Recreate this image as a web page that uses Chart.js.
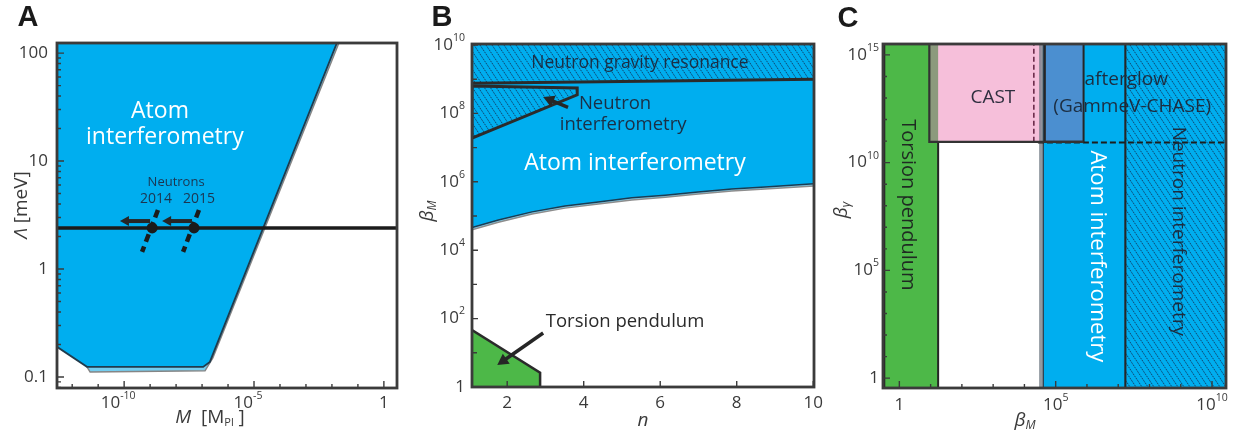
<!DOCTYPE html>
<html>
<head>
<meta charset="utf-8">
<script src="https://cdn.jsdelivr.net/npm/chart.js@4.4.1/dist/chart.umd.min.js"></script>
<style>
  body { margin: 0; background: #fff; width: 1241px; height: 440px; overflow: hidden; position: relative; }
  canvas { position: absolute; top: 0; }
</style>
</head>
<body>
<canvas id="a" width="414" height="440" style="left:0"></canvas>
<canvas id="b" width="416" height="440" style="left:414px"></canvas>
<canvas id="c" width="411" height="440" style="left:830px"></canvas>
<script>
// ---- panel A: Lambda [meV] vs M [M_Pl] ----
const aRangeM = [2.6e-13, 3.2];
const aRangeLam = [0.079, 124];
const atomM = [2.6e-13, 3.7e-12, 1.1e-7, 2.0e-7, 1.55e-2];
const atomLam = [0.19, 0.124, 0.124, 0.138, 124];
const atomEdgeM = [3.7e-12, 4.9e-12, 1.3e-7, 2.6e-7, 1.85e-2];
const atomEdgeLam = [0.124, 0.111, 0.114, 0.15, 124];
const neutronLam = 2.4;
const neutronYears = ['2014', '2015'];
const neutronM = [1.2e-9, 4.9e-8];
const boundTopM = [2.0e-9, 7.6e-8];
const boundBotM = [4.9e-10, 1.86e-8];
const boundLam = [3.52, 1.44];
const arrowTailM = [1.0e-9, 4.1e-8];
const arrowHeadM = [6.9e-11, 2.9e-9];
const arrowLam = 2.78;
const aTickM = [1e-10, 1e-5, 1];
const aTickLam = [0.1, 1, 10, 100];

// ---- panel B: beta_M vs n ----
const bRangeN = [1.08, 10.02];
const bRangeBeta = [1, 1.07e10];
const ngrN = [1.08, 10.02];
const ngrBeta = [7.6e8, 1.0e9];
const niN = [1.08, 3.83, 3.83, 1.08, 1.08];
const niBeta = [6.3e8, 5.5e8, 3.5e8, 1.9e7, 6.3e8];
const aiN = [1.08, 1.77, 2.65, 3.51, 4.38, 5.26, 6.13, 6.99, 7.87, 8.74, 10.02];
const aiBeta = [4.57e4, 7.6e4, 1.32e5, 1.95e5, 2.57e5, 3.39e5, 4.07e5, 5.0e5, 6.17e5, 7.08e5, 8.7e5];
const aiEdgeBeta = [3.98e4, 6.6e4, 1.15e5, 1.70e5, 2.24e5, 2.95e5, 3.55e5, 4.37e5, 5.37e5, 6.17e5, 7.6e5];
const tpN = [1.08, 2.86, 2.86];
const tpBeta = [46, 2.6, 1];
const bArrowFromN = [3.59, 2.94];
const bArrowFromBeta = [1.5e8, 38];
const bArrowToN = [2.94, 1.74];
const bArrowToBeta = [3.0e8, 4.4];
const bTickN = [2, 4, 6, 8, 10];
const bTickExp = [0, 2, 4, 6, 8, 10];

// ---- panel C: beta_gamma vs beta_M ----
const cRangeBM = [0.33, 2.8e10];
const cRangeBG = [0.35, 3.2e15];
const torsionEdge = 17.4;
const castBM = [9.1, 3.5e4];
const castFloor = 9.3e10;
const castDashBM = 2.0e4;
const atomEdgeBM = [2.95e4, 4.0e4];
const atomBM = [4.0e4, 1.7e7];
const glowBM = [4.5e4, 7.8e5];
const glowDashBM = 2.7e4;
const glowDashBG = 8.5e10;
const cTickExpX = [0, 5, 10];
const cTickExpY = [0, 5, 10, 15];

const BLUE = '#00aeef', GREEN = '#4db848', PINK = '#f6bfda', GLOW = '#4b8fd0', INK = '#262626';
const FONT = '"Open Sans", "Noto Sans", sans-serif';

function pts(xs, ys) {
  return xs.map((x, i) => ({ x, y: Array.isArray(ys) ? ys[i] : ys }));
}
function rect(x1, x2, y1, y2) {
  return [{ x: x1, y: y1 }, { x: x1, y: y2 }, { x: x2, y: y2 }, { x: x2, y: y1 }, { x: x1, y: y1 }];
}
function ds(data, o) {
  return Object.assign({ data, borderColor: INK, borderWidth: 2, pointRadius: 0, fill: false, tension: 0, clip: 0 }, o);
}

function hatch(id) {
  const t = document.createElement('canvas');
  t.width = 6; t.height = 9;
  const g = t.getContext('2d');
  g.fillStyle = BLUE;
  g.fillRect(0, 0, 6, 9);
  g.strokeStyle = 'rgba(20,40,75,0.85)';
  g.lineWidth = 0.9;
  g.setLineDash([1.8, 0.9]);
  g.beginPath();
  for (const k of [-6, 0, 6]) { g.moveTo(k, 0); g.lineTo(k + 6, 9); }
  g.stroke();
  return document.getElementById(id).getContext('2d').createPattern(t, 'repeat');
}

function txt(ctx, parts, x, y, align, rot) {
  // parts: [text, size, italic, dy]
  const f = p => (p[2] ? 'italic ' : '') + p[1] + 'px ' + FONT;
  ctx.save();
  ctx.translate(x, y);
  if (rot) ctx.rotate(rot);
  ctx.textBaseline = 'middle';
  ctx.textAlign = 'left';
  let w = 0;
  parts.forEach(p => { ctx.font = f(p); w += ctx.measureText(p[0]).width; });
  let cx = align === 'center' ? -w / 2 : align === 'right' ? -w : 0;
  parts.forEach(p => { ctx.font = f(p); ctx.fillText(p[0], cx, p[3] || 0); cx += ctx.measureText(p[0]).width; });
  ctx.restore();
}
function pow(exp, size) {
  if (exp === 0 || exp === '') return [['1', size]];
  return [['10', size], [String(exp), size * 0.62, false, -size * 0.42]];
}
function letter(ctx, s, x, y) {
  ctx.save();
  ctx.fillStyle = '#1a1a1a';
  ctx.font = 'bold 29px "Liberation Sans", Arial, sans-serif';
  ctx.textAlign = 'center';
  ctx.textBaseline = 'middle';
  ctx.fillText(s, x, y);
  ctx.restore();
}

function axes(chart, xt, yt) {
  const { ctx, chartArea: a, scales: { x, y } } = chart;
  ctx.save();
  ctx.strokeStyle = '#3b3b3b';
  ctx.lineWidth = 1.4;
  ctx.beginPath();
  xt.forEach(([v, l]) => { const p = x.getPixelForValue(v); ctx.moveTo(p, a.bottom); ctx.lineTo(p, a.bottom - l); });
  yt.forEach(([v, l]) => { const p = y.getPixelForValue(v); ctx.moveTo(a.left, p); ctx.lineTo(a.left + l, p); });
  ctx.stroke();
  ctx.lineWidth = 2.8;
  ctx.strokeRect(a.left, a.top, a.right - a.left, a.bottom - a.top);
  ctx.restore();
}

function arrow(chart, x0, y0, x1, y1, w, head) {
  const { ctx, scales: { x, y } } = chart;
  const ax = x.getPixelForValue(x0), ay = y.getPixelForValue(y0);
  const bx = x.getPixelForValue(x1), by = y.getPixelForValue(y1);
  const ang = Math.atan2(by - ay, bx - ax);
  ctx.save();
  ctx.strokeStyle = INK;
  ctx.fillStyle = INK;
  ctx.lineWidth = w;
  ctx.beginPath();
  ctx.moveTo(ax, ay);
  ctx.lineTo(bx - Math.cos(ang) * head * 0.8, by - Math.sin(ang) * head * 0.8);
  ctx.stroke();
  ctx.translate(bx, by);
  ctx.rotate(ang);
  ctx.beginPath();
  ctx.moveTo(0, 0);
  ctx.lineTo(-head, -head * 0.55);
  ctx.lineTo(-head, head * 0.55);
  ctx.closePath();
  ctx.fill();
  ctx.restore();
}

function makeChart(id, pad, xScale, yScale, datasets, draw) {
  // first listed dataset is drawn at the bottom
  datasets.forEach((d, i) => { d.order = datasets.length - i; });
  return new Chart(document.getElementById(id), {
    type: 'line',
    data: { datasets },
    options: {
      responsive: false,
      animation: false,
      events: [],
      layout: { padding: pad },
      scales: {
        x: Object.assign({ display: false }, xScale),
        y: Object.assign({ display: false }, yScale)
      },
      plugins: { legend: { display: false }, tooltip: { enabled: false } }
    },
    plugins: [{ id: 'decor' + id, afterDatasetsDraw: draw }]
  });
}

// ---------- A ----------
const aXTicks = [], aYTicks = [];
for (let e = -12; e <= 0; e++) aXTicks.push([Math.pow(10, e), e % 5 === 0 ? 7 : 4]);
for (let e = -2; e <= 2; e++) for (let m = 1; m <= 9; m++) {
  const v = m * Math.pow(10, e);
  if (v > aRangeLam[0] && v < aRangeLam[1]) aYTicks.push([v, m === 1 ? 7 : 4]);
}

makeChart('a', { left: 57, top: 43, right: 17, bottom: 52 },
  { type: 'logarithmic', min: aRangeM[0], max: aRangeM[1] },
  { type: 'logarithmic', min: aRangeLam[0], max: aRangeLam[1] },
  [
    ds(pts(atomEdgeM, atomEdgeLam), { fill: 'end', backgroundColor: '#74cdef', borderColor: '#858585', borderWidth: 1.5 }),
    ds(pts(atomM, atomLam), { fill: 'end', backgroundColor: BLUE, borderColor: '#1f3b4d', borderWidth: 1.8 }),
    ds(pts(aRangeM, neutronLam), { borderColor: '#1b1b1b', borderWidth: 3.4 }),
    ds(pts([boundTopM[0], boundBotM[0]], boundLam), { borderColor: '#1b1b1b', borderWidth: 4.5, borderDash: [8, 5] }),
    ds(pts([boundTopM[1], boundBotM[1]], boundLam), { borderColor: '#1b1b1b', borderWidth: 4.5, borderDash: [8, 5] }),
    ds(pts(neutronM, neutronLam), { showLine: false, pointRadius: 5.5, pointBackgroundColor: '#1b1b1b', pointBorderWidth: 0 })
  ],
  function (chart) {
    const { ctx, chartArea: a, scales: { x, y } } = chart;
    for (let i = 0; i < arrowTailM.length; i++) arrow(chart, arrowTailM[i], arrowLam, arrowHeadM[i], arrowLam, 4, 9);
    axes(chart, aXTicks, aYTicks);
    ctx.fillStyle = '#3a3a3a';
    aTickLam.forEach(v => txt(ctx, [[String(v), 17]], a.left - 9, y.getPixelForValue(v), 'right'));
    [['10', '-10'], ['10', '-5'], ['1', '']].forEach((l, i) => {
      const parts = l[1] ? [[l[0], 17], [l[1], 10.5, false, -7]] : [[l[0], 17]];
      txt(ctx, parts, x.getPixelForValue(aTickM[i]) - (l[1] ? 6 : 0), a.bottom + 15, 'center');
    });
    txt(ctx, [['Λ', 19, true], [' [meV]', 19]], 22, 205, 'center', -Math.PI / 2);
    txt(ctx, [['M', 19, true], ['  [M', 19], ['Pl', 11, false, 5], [' ]', 19]], 210, 418, 'center');
    ctx.fillStyle = '#fff';
    txt(ctx, [['Atom', 23]], x.getPixelForValue(2.4e-9), y.getPixelForValue(28.5), 'center');
    txt(ctx, [['interferometry', 23]], x.getPixelForValue(3.7e-9), y.getPixelForValue(16.7), 'center');
    ctx.fillStyle = '#1c3550';
    txt(ctx, [['Neutrons', 13]], x.getPixelForValue(1e-8), y.getPixelForValue(6.4), 'center');
    neutronYears.forEach((s, i) => txt(ctx, [[s, 14]], x.getPixelForValue([1.7e-9, 7.6e-8][i]), y.getPixelForValue(4.45), 'center'));
    letter(ctx, 'A', 28, 18);
  });

// ---------- B ----------
const bXTicks = bTickN.map(v => [v, 6]);
const bYTicks = [];
for (let e = 0; e <= 10; e++) bYTicks.push([Math.pow(10, e), e % 2 === 0 ? 6 : 5]);
const hatchB = hatch('b');

makeChart('b', { left: 58, top: 44, right: 16, bottom: 53 },
  { type: 'linear', min: bRangeN[0], max: bRangeN[1] },
  { type: 'logarithmic', min: bRangeBeta[0], max: bRangeBeta[1] },
  [
    ds(pts(aiN, aiEdgeBeta), { fill: 'end', backgroundColor: '#80cdea', borderColor: '#8d8d8d', borderWidth: 1.5 }),
    ds(pts(aiN, aiBeta), { fill: 'end', backgroundColor: BLUE, borderColor: '#1b3c52', borderWidth: 1.5 }),
    ds(pts(niN, niBeta), { fill: 'shape', backgroundColor: hatchB, borderColor: '#2b2b2b', borderWidth: 3 }),
    ds(pts(ngrN, ngrBeta), { fill: 'end', backgroundColor: hatchB, borderColor: '#2b2b2b', borderWidth: 3 }),
    ds(pts(tpN, tpBeta), { fill: 'start', backgroundColor: GREEN, borderColor: '#2b2b2b', borderWidth: 2.5 })
  ],
  function (chart) {
    const { ctx, chartArea: a, scales: { x, y } } = chart;
    for (let i = 0; i < bArrowFromN.length; i++) arrow(chart, bArrowFromN[i], bArrowFromBeta[i], bArrowToN[i], bArrowToBeta[i], 3.5, 11);
    axes(chart, bXTicks, bYTicks);
    ctx.fillStyle = '#3a3a3a';
    bTickExp.forEach(e => txt(ctx, pow(e, 17), a.left - 7, y.getPixelForValue(Math.pow(10, e)), 'right'));
    bTickN.forEach(v => txt(ctx, [[String(v), 17]], x.getPixelForValue(v), a.bottom + 16, 'center'));
    txt(ctx, [['β', 19, true], ['M', 12, true, 5]], 14, 211, 'center', -Math.PI / 2);
    txt(ctx, [['n', 19, true]], 229, 421, 'center');
    ctx.fillStyle = '#1b2f45';
    txt(ctx, [['Neutron gravity resonance', 17.5]], x.getPixelForValue(5.47), y.getPixelForValue(2.96e9), 'center');
    txt(ctx, [['Neutron', 18.5]], x.getPixelForValue(4.82), y.getPixelForValue(1.87e8), 'center');
    txt(ctx, [['interferometry', 18.5]], x.getPixelForValue(5.03), y.getPixelForValue(4.6e7), 'center');
    ctx.fillStyle = '#2a2a2a';
    txt(ctx, [['Torsion pendulum', 18.5]], x.getPixelForValue(5.08), y.getPixelForValue(80), 'center');
    ctx.fillStyle = '#fff';
    txt(ctx, [['Atom interferometry', 23]], x.getPixelForValue(5.34), y.getPixelForValue(3.5e6), 'center');
    letter(ctx, 'B', 28, 18);
  });

// ---------- C ----------
const cXTicks = [], cYTicks = [];
for (let e = 0; e <= 10; e++) cXTicks.push([Math.pow(10, e), e % 5 === 0 ? 7 : 4]);
for (let e = 0; e <= 15; e++) cYTicks.push([Math.pow(10, e), e % 5 === 0 ? 7 : 4]);
const hatchC = hatch('c');
const [bmLo, bmHi] = cRangeBM, [bgLo, bgHi] = cRangeBG;

makeChart('c', { left: 53, top: 44, right: 15, bottom: 52 },
  { type: 'logarithmic', min: bmLo, max: bmHi },
  { type: 'logarithmic', min: bgLo, max: bgHi },
  [
    ds(rect(bmLo, torsionEdge, bgLo, bgHi), { fill: 'shape', backgroundColor: GREEN, borderWidth: 2 }),
    ds(rect(atomBM[0], atomBM[1], bgLo, bgHi), { fill: 'shape', backgroundColor: BLUE, borderColor: '#1f3b4d', borderWidth: 1.5 }),
    ds(rect(atomBM[1], bmHi, bgLo, bgHi), { fill: 'shape', backgroundColor: hatchC, borderWidth: 2 }),
    ds(rect(castBM[0], castBM[1], castFloor, bgHi), { fill: 'shape', backgroundColor: PINK, borderWidth: 0 }),
    ds(rect(castBM[0], torsionEdge, castFloor, bgHi), { fill: 'shape', backgroundColor: '#8b9a7d', borderWidth: 0 }),
    ds(rect(atomEdgeBM[0], atomEdgeBM[1], bgLo, bgHi), { fill: 'shape', backgroundColor: 'rgba(110,120,130,0.75)', borderWidth: 0 }),
    ds(rect(glowBM[0], glowBM[1], castFloor, bgHi), { fill: 'shape', backgroundColor: GLOW, borderWidth: 2 }),
    ds(pts([castDashBM, castDashBM], [castFloor, bgHi]), { borderColor: '#6b2a4a', borderWidth: 1.6, borderDash: [5, 3] }),
    ds(pts([glowDashBM, bmHi], glowDashBG), { borderColor: '#1d1d1d', borderWidth: 2, borderDash: [6, 3] }),
    ds(pts([castBM[0], castBM[0], glowBM[1]], [bgHi, castFloor, castFloor]), { borderColor: '#333', borderWidth: 2.2 })
  ],
  function (chart) {
    const { ctx, chartArea: a, scales: { x, y } } = chart;
    axes(chart, cXTicks, cYTicks);
    ctx.fillStyle = '#3a3a3a';
    cTickExpY.forEach(e => txt(ctx, pow(e, 17), a.left - 4, y.getPixelForValue(Math.pow(10, e)), 'right'));
    cTickExpX.forEach(e => txt(ctx, pow(e, 17), x.getPixelForValue(Math.pow(10, e)), a.bottom + 17, 'center'));
    txt(ctx, [['β', 19, true], ['γ', 12, true, 5]], 12, 210, 'center', -Math.PI / 2);
    txt(ctx, [['β', 19, true], ['M', 12, true, 5]], 195, 421, 'center');
    ctx.fillStyle = '#2f2f3f';
    txt(ctx, [['CAST', 19]], x.getPixelForValue(980), y.getPixelForValue(1.1e13), 'center');
    ctx.fillStyle = '#1c2d40';
    txt(ctx, [['afterglow', 19]], x.getPixelForValue(1.8e7), y.getPixelForValue(6.9e13), 'center');
    txt(ctx, [['(GammeV-CHASE)', 19]], x.getPixelForValue(2.8e7), y.getPixelForValue(3.9e12), 'center');
    txt(ctx, [['Neutron interferometry', 19]], x.getPixelForValue(8.3e8), y.getPixelForValue(6.5e6), 'center', Math.PI / 2);
    ctx.fillStyle = '#1f2a22';
    txt(ctx, [['Torsion pendulum', 20]], x.getPixelForValue(1.9), y.getPixelForValue(1.1e8), 'center', Math.PI / 2);
    ctx.fillStyle = '#fff';
    txt(ctx, [['Atom interferometry', 22]], x.getPixelForValue(2.2e6), y.getPixelForValue(4.5e5), 'center', Math.PI / 2);
    letter(ctx, 'C', 18, 19);
  });
</script>
</body>
</html>
